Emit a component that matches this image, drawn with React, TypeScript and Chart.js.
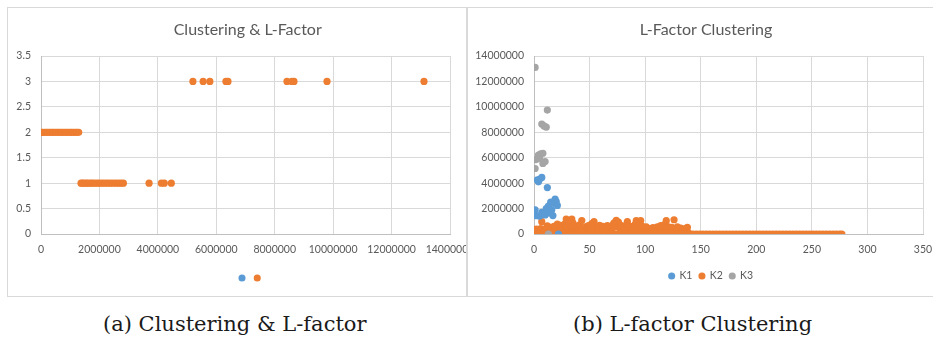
import React, { useEffect, useRef } from "react";
import { Chart, registerables } from "chart.js";

Chart.register(...registerables);

// ---------------- data ----------------
const leftTitle = "Clustering & L-Factor";
const rightTitle = "L-Factor Clustering";
const captionA = "(a) Clustering & L-factor";
const captionB = "(b) L-factor Clustering";

// Left chart: L-Factor level (y) vs value (x)
const leftSeriesLabels = ["", ""];
const levelValues = [1, 2, 3];
const level1X = [
  1370000, 1420000, 1480000, 1550000, 1610000, 1690000, 1760000, 1840000, 1930000,
  2010000, 2100000, 2190000, 2280000, 2370000, 2460000, 2560000, 2650000, 2740000,
  2820000, 3700000, 4120000, 4220000, 4460000,
];
const level2X = [
  10000, 60000, 110000, 170000, 220000, 280000, 330000, 390000, 440000, 500000,
  560000, 610000, 670000, 720000, 780000, 840000, 890000, 950000, 1010000, 1060000,
  1120000, 1180000, 1230000, 1290000,
];
const level3X = [
  5200000, 5550000, 5780000, 6330000, 6400000, 8420000, 8590000, 8660000, 9790000,
  13110000,
];

// Right chart: clusters K1, K2, K3 (x = index, y = value)
const clusterLabels = ["K1", "K2", "K3"];
const k1Points: [number, number][] = [
  [1, 1900000], [2, 1450000], [3, 4250000], [4, 4100000], [5, 4300000], [7, 4450000],
  [5, 1400000], [7, 1700000], [9, 1600000], [10, 1500000], [11, 2000000], [12, 3650000],
  [13, 2200000], [14, 1650000], [15, 2500000], [16, 1900000], [17, 1450000], [18, 2400000],
  [19, 2750000], [20, 2550000], [21, 2250000], [22, 0],
];
const k3Points: [number, number][] = [
  [1, 13100000], [12, 9750000], [7, 8650000], [9, 8500000], [11, 8400000],
  [2, 5850000], [4, 6200000], [6, 6300000], [8, 6350000], [5, 5950000],
  [8, 5550000], [10, 5700000], [1, 5150000], [13, 0],
];
const k2Points: [number, number][] = [
  [0, 250000], [1, 60000], [2, 380000], [3, 150000], [4, 280000], [5, 30000], [6, 420000],
  [7, 970000], [8, 180000], [9, 320000], [10, 80000], [11, 450000], [12, 650000],
  [13, 220000], [14, 90000], [15, 520000], [16, 330000], [17, 140000], [18, 600000],
  [19, 260000], [20, 410000], [21, 780000], [22, 170000], [23, 480000], [24, 690000],
  [25, 310000], [26, 560000], [27, 120000], [28, 820000], [29, 1180000], [30, 430000],
  [31, 240000], [32, 680000], [33, 520000], [34, 1180000], [35, 880000], [36, 300000],
  [37, 160000], [38, 620000], [39, 380000], [40, 200000], [41, 720000], [42, 350000],
  [43, 1060000], [44, 480000], [45, 290000], [46, 110000], [47, 580000], [48, 360000],
  [49, 660000], [50, 230000], [51, 470000], [52, 820000], [53, 150000], [54, 980000],
  [55, 560000], [56, 280000], [57, 140000], [58, 520000], [59, 680000], [60, 370000],
  [61, 190000], [62, 610000], [63, 280000], [64, 470000], [65, 90000], [66, 660000],
  [67, 420000], [68, 230000], [69, 520000], [70, 330000], [71, 720000], [72, 880000],
  [73, 560000], [74, 1080000], [75, 820000], [76, 930000], [77, 480000], [78, 270000],
  [79, 660000], [80, 140000], [81, 430000], [82, 570000], [83, 230000], [84, 980000],
  [85, 660000], [86, 320000], [87, 470000], [88, 90000], [89, 610000], [90, 280000],
  [91, 760000], [92, 1050000], [93, 520000], [94, 870000], [95, 380000], [96, 1060000],
  [97, 650000], [98, 230000], [99, 470000], [100, 140000], [101, 560000], [102, 330000],
  [103, 50000], [104, 420000], [105, 190000], [106, 280000], [107, 510000], [108, 90000],
  [109, 370000], [110, 230000], [111, 560000], [112, 140000], [113, 420000], [114, 660000],
  [115, 280000], [116, 470000], [117, 720000], [118, 190000], [119, 1050000], [120, 370000],
  [121, 560000], [122, 90000], [123, 330000], [124, 520000], [125, 230000], [126, 1120000],
  [127, 420000], [128, 280000], [129, 560000], [130, 140000], [131, 370000], [132, 470000],
  [133, 230000], [134, 330000], [135, 90000], [136, 420000], [137, 190000], [138, 520000],
  [139, 100000],
];
const k2ZeroX = [
  0, 3, 6, 9, 12, 15, 18, 21, 24, 27, 30, 33, 36, 39, 42, 45, 48, 51, 54, 57, 60, 63, 66,
  69, 72, 75, 78, 81, 84, 87, 90, 93, 96, 99, 102, 105, 108, 111, 114, 117, 120, 123, 126,
  129, 132, 135, 138, 140, 143, 146, 149, 152, 155, 158, 161, 164, 167, 170, 173, 176, 179,
  182, 185, 188, 191, 194, 197, 200, 203, 206, 209, 212, 215, 218, 221, 224, 227, 230, 233,
  236, 239, 242, 245, 248, 251, 254, 257, 260, 263, 266, 269, 272, 275, 277,
];

// ---------------- styling ----------------
const BLUE = "#5B9BD5";
const ORANGE = "#ED7D31";
const GRAY = "#A5A5A5";
const TEXT = "#595959";
const GRID = "#d9d9d9";
const AXIS = "#bfbfbf";
const FONT = "Lato";

const shiftBoxes = {
  id: "shiftBoxes",
  afterLayout(chart: any, _args: any, opts: any) {
    const t = chart.titleBlock;
    if (t && opts && opts.title) {
      t.left += opts.title;
      t.right += opts.title;
    }
    const l = chart.legend;
    if (l && opts && opts.legend) {
      l.left += opts.legend;
      l.right += opts.legend;
    }
  },
};

const tickFont = { family: FONT, size: 10.5 };

function yFit(width: number) {
  return (s: any) => {
    s.width = width;
    s.paddingTop = 0;
    s.paddingBottom = 0;
  };
}
function xFit(height: number) {
  return (s: any) => {
    s.height = height;
    s.paddingLeft = 0;
    s.paddingRight = 0;
  };
}

function axis(min: number, max: number, step: number, fit: any, pad: number) {
  return {
    type: "linear" as const,
    min,
    max,
    afterFit: fit,
    grid: { color: GRID, drawTicks: false, lineWidth: 1 },
    border: { color: AXIS, width: 1 },
    ticks: {
      stepSize: step,
      color: TEXT,
      font: tickFont,
      padding: pad,
      autoSkip: false,
      maxRotation: 0,
      callback: (v: any) => String(v),
    },
  };
}

function titleOpts(text: string) {
  return {
    display: true,
    text,
    color: TEXT,
    font: { family: FONT, size: 16, weight: "normal" as const },
    padding: { top: 12, bottom: 16.8 },
  };
}

function legendOpts(padding: number) {
  return {
    display: true,
    position: "bottom" as const,
    labels: {
      usePointStyle: true,
      pointStyle: "circle",
      boxWidth: 5,
      boxHeight: 5,
      padding,
      color: TEXT,
      font: { family: FONT, size: 10.5 },
      sort: (a: any, b: any) => a.datasetIndex - b.datasetIndex,
    },
  };
}

const pointStyle = (color: string) => ({
  backgroundColor: color,
  borderColor: color,
  borderWidth: 0,
  pointRadius: 3.6,
  pointHoverRadius: 3.6,
});

export default function App() {
  const leftRef = useRef<HTMLCanvasElement>(null);
  const rightRef = useRef<HTMLCanvasElement>(null);

  useEffect(() => {
    const leftData = [
      ...level2X.map((x) => ({ x, y: levelValues[1] })),
      ...level1X.map((x) => ({ x, y: levelValues[0] })),
      ...level3X.map((x) => ({ x, y: levelValues[2] })),
    ];
    const left = new Chart(leftRef.current!, {
      type: "scatter",
      data: {
        datasets: [
          { label: leftSeriesLabels[0], data: [], order: 1, ...pointStyle(BLUE) },
          { label: leftSeriesLabels[1], data: leftData, order: 0, ...pointStyle(ORANGE) },
        ],
      },
      options: {
        responsive: false,
        animation: false,
        events: [],
        layout: { padding: { left: 0, top: 0, right: 16, bottom: 2.75 } },
        scales: {
          x: axis(0, 14000000, 2000000, xFit(33.75), 9),
          y: axis(0, 3.5, 0.5, yFit(33), 10),
        },
        plugins: {
          title: titleOpts(leftTitle),
          legend: legendOpts(5),
          tooltip: { enabled: false },
          shiftBoxes: { title: 18.7, legend: 23.25 },
        } as any,
      },
      plugins: [shiftBoxes],
    });

    const k2Data = [
      ...k2Points.map(([x, y]) => ({ x, y })),
      ...k2ZeroX.map((x) => ({ x, y: 0 })),
    ];
    const right = new Chart(rightRef.current!, {
      type: "scatter",
      data: {
        datasets: [
          { label: clusterLabels[0], data: k1Points.map(([x, y]) => ({ x, y })), order: 1, ...pointStyle(BLUE) },
          { label: clusterLabels[1], data: k2Data, order: 2, ...pointStyle(ORANGE) },
          { label: clusterLabels[2], data: k3Points.map(([x, y]) => ({ x, y })), order: 0, ...pointStyle(GRAY) },
        ],
      },
      options: {
        responsive: false,
        animation: false,
        events: [],
        layout: { padding: { left: 0, top: 0, right: 10, bottom: 4.75 } },
        scales: {
          x: axis(0, 350, 50, xFit(29.75), 9),
          y: axis(0, 14000000, 2000000, yFit(66), 10),
        },
        plugins: {
          title: titleOpts(rightTitle),
          legend: legendOpts(7),
          tooltip: { enabled: false },
          shiftBoxes: { title: 10.5, legend: 15.6 },
        } as any,
      },
      plugins: [shiftBoxes],
    });

    return () => {
      left.destroy();
      right.destroy();
    };
  }, []);

  const box: React.CSSProperties = {
    position: "absolute",
    top: 7,
    height: 290,
    border: "1px solid #d9d9d9",
    boxSizing: "border-box",
    overflow: "hidden",
    background: "#fff",
  };
  const caption: React.CSSProperties = {
    position: "absolute",
    top: 314,
    fontFamily: "'DejaVu Serif', 'Liberation Serif', serif",
    fontSize: 21,
    lineHeight: "21px",
    color: "#1a1a1a",
    whiteSpace: "nowrap",
  };

  return (
    <div style={{ position: "absolute", left: 0, top: 0, width: 933, height: 338, overflow: "hidden", background: "#fff" }}>
      <div style={{ ...box, left: 7, width: 460 }}>
        <canvas ref={leftRef} width={458} height={288} style={{ display: "block" }} />
      </div>
      <div style={{ ...box, left: 467, width: 470 }}>
        <canvas ref={rightRef} width={465} height={288} style={{ display: "block" }} />
      </div>
      <div style={{ ...caption, left: 103 }}>{captionA}</div>
      <div style={{ ...caption, left: 573 }}>{captionB}</div>
    </div>
  );
}
